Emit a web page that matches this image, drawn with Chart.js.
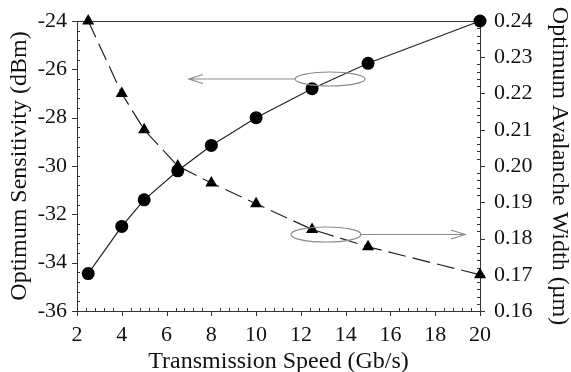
<!DOCTYPE html>
<html lang="en">
<head>
<meta charset="UTF-8">
<title>Optimum Sensitivity vs Transmission Speed</title>
<script src="https://cdn.jsdelivr.net/npm/chart.js"></script>
<style>
  html, body { margin: 0; padding: 0; background: #fff; }
</style>
</head>
<body>
<canvas id="chart" width="571" height="372"></canvas>
<script>
// data
const speeds = [2.5, 4, 5, 6.5, 8, 10, 12.5, 15, 20];
const sensitivity = [-34.45, -32.5, -31.4, -30.2, -29.15, -28.0, -26.8, -25.75, -24.0];
const avalancheWidth = [0.240, 0.220, 0.210, 0.200, 0.1953, 0.1896, 0.1825, 0.1777, 0.170];

const xTicks = [2, 4, 6, 8, 10, 12, 14, 16, 18, 20];
const leftTicks = [-36, -34, -32, -30, -28, -26, -24];
const rightTicks = [0.16, 0.17, 0.18, 0.19, 0.20, 0.21, 0.22, 0.23, 0.24];

const serif = '"Liberation Serif", "DejaVu Serif", serif';
const ink = '#111';

// the two callout ellipses with their arrows (x in Gb/s, y on the given axis)
const callouts = [
    { axis: 'y', cx: 13.3, cy: -26.4, rx: 35, ry: 7, toX: 7.0, side: 'left' },
    { axis: 'y1', cx: 13.12, cy: 0.1811, rx: 35, ry: 7.5, toX: 19.33, side: 'right' }
];

// frame, inward minor ticks, outward major ticks
const framePlugin = {
    id: 'frame',
    beforeDatasetsDraw(chart) {
        const { ctx, chartArea: a, scales } = chart;
        ctx.save();
        ctx.strokeStyle = '#333';
        ctx.lineWidth = 1;
        ctx.strokeRect(a.left + 0.5, a.top + 0.5, a.right - a.left, a.bottom - a.top);

        ctx.beginPath();
        // x axis
        for (let i = 0; i <= 45; i++) {
            const v = 2 + i * 0.4;
            const px = Math.round(scales.x.getPixelForValue(v)) + 0.5;
            if (i % 5 === 0) { ctx.moveTo(px, a.bottom); ctx.lineTo(px, a.bottom + 5); }
            else { ctx.moveTo(px, a.bottom); ctx.lineTo(px, a.bottom - 3); }
        }
        // left axis
        for (let i = 0; i <= 30; i++) {
            const v = -36 + i * 0.4;
            const py = Math.round(scales.y.getPixelForValue(v)) + 0.5;
            if (i % 5 === 0) { ctx.moveTo(a.left, py); ctx.lineTo(a.left - 5, py); }
            else { ctx.moveTo(a.left, py); ctx.lineTo(a.left + 3, py); }
        }
        // right axis
        for (let i = 0; i <= 40; i++) {
            const v = 0.16 + i * 0.002;
            const py = Math.round(scales.y1.getPixelForValue(v)) + 0.5;
            if (i % 5 === 0) { ctx.moveTo(a.right, py); ctx.lineTo(a.right + 5, py); }
            else { ctx.moveTo(a.right, py); ctx.lineTo(a.right - 3, py); }
        }
        ctx.stroke();
        ctx.restore();
    },
    afterDatasetsDraw(chart) {
        const { ctx, scales } = chart;
        ctx.save();
        ctx.strokeStyle = '#8a8a8a';
        ctx.lineWidth = 1.2;
        callouts.forEach(c => {
            const cx = scales.x.getPixelForValue(c.cx);
            const cy = scales[c.axis].getPixelForValue(c.cy);
            const tx = scales.x.getPixelForValue(c.toX);
            ctx.beginPath();
            ctx.ellipse(cx, cy, c.rx, c.ry, 0, 0, Math.PI * 2);
            ctx.stroke();
            const fromX = c.side === 'left' ? cx - c.rx : cx + c.rx;
            const dir = c.side === 'left' ? 1 : -1;
            ctx.beginPath();
            ctx.moveTo(fromX, cy);
            ctx.lineTo(tx, cy);
            ctx.moveTo(tx + dir * 14, cy - 4.5);
            ctx.lineTo(tx, cy);
            ctx.lineTo(tx + dir * 14, cy + 4.5);
            ctx.stroke();
        });
        ctx.restore();
    }
};

const tickFont = { family: serif, size: 22 };
const titleFont = { family: serif, size: 24, lineHeight: 0.85 };

// fixed axis sizes so the plot area sits where it does in the figure
const fixY = w => s => { s.width = w; s.paddingTop = 0; s.paddingBottom = 0; };

new Chart(document.getElementById('chart'), {
    type: 'line',
    data: {
        datasets: [
            {
                label: 'Optimum Sensitivity',
                data: speeds.map((s, i) => ({ x: s, y: sensitivity[i] })),
                yAxisID: 'y',
                borderColor: '#222',
                borderWidth: 1.2,
                pointStyle: 'circle',
                pointRadius: 6.5,
                pointBackgroundColor: '#000',
                pointBorderColor: '#000',
                pointBorderWidth: 0,
                tension: 0,
                clip: false
            },
            {
                label: 'Optimum Avalanche Width',
                data: speeds.map((s, i) => ({ x: s, y: avalancheWidth[i] })),
                yAxisID: 'y1',
                borderColor: '#222',
                borderWidth: 1.2,
                borderDash: [18, 7],
                pointStyle: 'triangle',
                pointRadius: 7,
                pointBackgroundColor: '#000',
                pointBorderColor: '#000',
                pointBorderWidth: 0,
                tension: 0,
                clip: false
            }
        ]
    },
    options: {
        responsive: false,
        animation: false,
        devicePixelRatio: 1,
        layout: { padding: { top: 21, left: 0, right: 0, bottom: 0 } },
        plugins: { legend: { display: false }, tooltip: { enabled: false } },
        scales: {
            x: {
                type: 'linear',
                position: 'bottom',
                min: 2,
                max: 20,
                afterBuildTicks: s => { s.ticks = xTicks.map(v => ({ value: v })); },
                afterFit: s => { s.height = 61; s.paddingLeft = 0; s.paddingRight = 0; },
                grid: { display: false, drawTicks: false },
                border: { display: false },
                ticks: { font: tickFont, color: ink, padding: 11, maxRotation: 0 },
                title: { display: true, text: 'Transmission Speed (Gb/s)', font: titleFont, color: ink, padding: 0 }
            },
            y: {
                position: 'left',
                min: -36,
                max: -24,
                afterBuildTicks: s => { s.ticks = leftTicks.map(v => ({ value: v })); },
                afterFit: fixY(77),
                grid: { display: false, drawTicks: false },
                border: { display: false },
                ticks: { font: tickFont, color: ink, padding: 10 },
                title: { display: true, text: 'Optimum Sensitivity (dBm)', font: { family: serif, size: 24, lineHeight: 1 }, color: ink, padding: { top: 8, bottom: 0 } }
            },
            y1: {
                position: 'right',
                min: 0.16,
                max: 0.24,
                afterBuildTicks: s => { s.ticks = rightTicks.map(v => ({ value: v })); },
                afterFit: fixY(91),
                grid: { display: false, drawTicks: false },
                border: { display: false },
                ticks: { font: tickFont, color: ink, padding: 14, callback: v => v.toFixed(2) },
                title: { display: true, text: 'Optimum Avalanche Width (\u00b5m)', font: { family: serif, size: 24, lineHeight: 1 }, color: ink, padding: { top: 0, bottom: 1 } }
            }
        }
    },
    plugins: [framePlugin]
});
</script>
</body>
</html>
